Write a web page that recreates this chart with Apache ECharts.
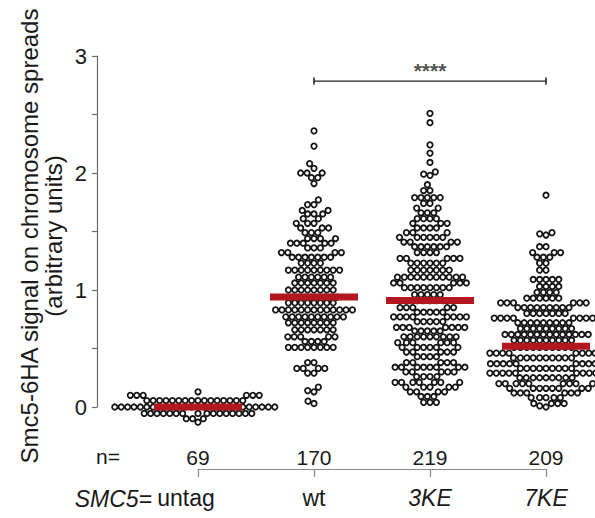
<!DOCTYPE html>
<html>
<head>
<meta charset="utf-8">
<script src="https://cdn.jsdelivr.net/npm/echarts@6/dist/echarts.min.js"></script>
<style>html,body{margin:0;padding:0;background:#fff}#c{width:595px;height:518px}</style>
</head>
<body>
<div id="c"></div>
<script>
// ---------- data ----------
const categories = ['untag', 'wt', '3KE', '7KE'];
const italicCats = ['3KE', '7KE'];
const counts = [69, 170, 219, 209];
const means = [0.00, 0.94, 0.91, 0.52];
const yTicks = [0, 1, 2, 3];
const sigFrom = 1, sigTo = 3, sigY = 2.786, sigLabel = '****';
const nPrefix = 'n=';
const genotypePrefix = 'SMC5=';
const yTitle = 'Smc5-6HA signal on chromosome spreads\n(arbitrary units)';

const untag = [
  0.13,
  0.10,0.10,0.10,0.10,0.10,0.10,
  0.055,0.055,0.055,0.055,0.055,0.055,0.055,0.055,0.055,0.055,0.055,0.055,0.055,0.055,0.055,0.055,
  0,0,0,0,0,0,0,0,0,0,
  0,0,0,0,0,0,0,0,0,0,
  0,0,0,0,0,0,
  -0.055,-0.055,-0.055,-0.055,-0.055,-0.055,-0.055,-0.055,-0.055,-0.055,-0.055,-0.055,-0.055,-0.055,-0.055,-0.055,
  -0.10,-0.10,-0.10,
  -0.13
];

const wt = [
  2.36,2.23,2.08,2.04,2.00,2.00,2.00,1.96,1.96,1.91,
  1.77,1.73,1.73,1.68,1.68,1.65,1.65,1.65,1.61,1.61,
  1.57,1.57,1.57,1.53,1.53,1.53,1.49,1.49,1.49,1.44,
  1.44,1.44,1.44,1.40,1.40,1.40,1.40,1.40,1.36,1.36,
  1.36,1.32,1.32,1.32,1.32,1.28,1.28,1.28,1.28,1.28,
  1.28,1.28,
  1.23,1.23,1.23,1.23,
  1.17,1.17,1.17,1.17,1.17,1.17,1.17,1.17,1.17,
  1.11,1.11,1.11,1.11,1.11,1.11,
  1.06,1.06,1.06,1.06,1.06,1.06,1.06,
  1.00,1.00,1.00,1.00,1.00,1.00,1.00,1.00,
  0.94,0.94,0.94,0.94,0.94,0.94,0.94,0.94,
  0.89,0.89,0.89,0.89,0.89,0.89,0.89,0.89,
  0.83,0.83,0.83,0.83,0.83,0.83,0.83,0.83,0.83,0.83,0.83,0.83,0.83,
  0.77,0.77,0.77,0.77,0.77,0.77,0.77,0.77,0.77,0.77,
  0.72,0.72,0.72,0.72,0.72,0.72,0.72,0.72,
  0.66,0.66,0.66,0.66,0.66,0.66,0.66,
  0.60,0.60,0.60,0.60,0.60,
  0.56,0.56,0.56,0.56,
  0.51,0.51,0.51,0.51,0.51,0.51,0.51,0.51,
  0.38,0.38,
  0.33,0.33,0.33,0.33,
  0.29,0.29,
  0.17,0.14,0.13,0.05,0.03
];

const ke3 = [
  2.51,2.43,2.24,2.17,2.09,2.01,1.99,1.98,1.90,1.85,1.85,
  1.79,1.79,1.79,1.79,1.79,
  1.74,1.74,
  1.70,1.70,
  1.66,1.66,1.66,
  1.61,1.61,1.61,1.61,
  1.57,1.57,1.57,
  1.53,1.53,1.53,1.53,
  1.49,1.49,1.49,
  1.45,1.45,1.45,1.45,1.45,1.45,
  1.41,1.41,1.41,1.41,
  1.37,1.37,1.37,1.37,1.37,1.37,
  1.32,1.32,1.32,1.32,
  1.27,1.27,1.27,1.27,1.27,
  1.23,1.23,1.23,1.23,1.23,1.23,
  1.17,1.17,1.17,1.17,1.17,1.17,1.17,
  1.11,1.11,1.11,1.11,1.11,1.11,1.11,1.11,1.11,1.11,1.11,
  1.06,1.06,1.06,1.06,1.06,
  1.02,1.02,1.02,1.02,1.02,1.02,1.02,1.02,
  0.96,0.96,0.96,0.96,0.96,
  0.91,0.91,0.91,0.91,0.91,0.91,
  0.85,0.85,0.85,0.85,0.85,
  0.81,0.81,0.81,0.81,0.81,
  0.77,0.77,0.77,0.77,0.77,0.77,0.77,0.77,
  0.73,0.73,0.73,0.73,0.73,
  0.68,0.68,0.68,0.68,0.68,0.68,0.68,
  0.65,0.65,0.65,0.65,0.65,
  0.60,0.60,0.60,0.60,0.60,0.60,0.60,0.60,0.60,
  0.55,0.55,0.55,0.55,0.55,0.55,
  0.51,0.51,0.51,0.51,0.51,0.51,
  0.47,0.47,0.47,0.47,0.47,
  0.43,0.43,0.43,0.43,
  0.38,0.38,0.38,0.38,0.38,
  0.34,0.34,0.34,0.34,0.34,0.34,0.34,0.34,
  0.30,0.30,0.30,0.30,0.30,
  0.26,0.26,0.26,0.26,
  0.21,0.21,0.21,0.21,0.21,0.21,0.21,
  0.17,0.17,0.17,0.17,0.17,
  0.13,0.13,0.13,0.13,
  0.09,0.09,0.09,
  0.04,0.04,0.04
];

const ke7 = [
  1.81,1.49,1.48,1.47,
  1.37,1.37,
  1.32,1.32,1.32,
  1.28,1.28,1.28,
  1.23,1.23,
  1.17,1.17,
  1.09,1.09,1.09,1.09,1.09,
  1.03,1.03,1.03,1.03,
  0.98,0.98,0.98,0.98,
  0.93,0.93,0.93,0.93,0.93,0.93,
  0.89,0.89,0.89,0.89,0.89,0.89,
  0.85,0.85,0.85,0.85,0.85,0.85,0.85,0.85,0.85,
  0.80,0.80,0.80,0.80,0.80,0.80,0.80,
  0.76,0.76,0.76,0.76,0.76,0.76,0.76,0.76,
  0.72,0.72,0.72,0.72,0.72,0.72,0.72,0.72,0.72,
  0.67,0.67,0.67,0.67,0.67,0.67,0.67,0.67,0.67,
  0.62,0.62,0.62,0.62,0.62,0.62,0.62,0.62,0.62,0.62,0.62,0.62,0.62,0.62,
  0.57,0.57,0.57,0.57,0.57,0.57,0.57,0.57,0.57,0.57,
  0.51,0.51,0.51,0.51,0.51,0.51,0.51,0.51,0.51,0.51,
  0.46,0.46,0.46,0.46,0.46,0.46,0.46,0.46,0.46,0.46,
  0.42,0.42,0.42,0.42,0.42,0.42,0.42,0.42,0.42,0.42,
  0.37,0.37,0.37,0.37,0.37,0.37,0.37,0.37,0.37,0.37,
  0.33,0.33,0.33,0.33,0.33,0.33,0.33,0.33,0.33,0.33,
  0.29,0.29,0.29,0.29,0.29,0.29,0.29,0.29,0.29,
  0.25,0.25,0.25,0.25,0.25,0.25,0.25,0.25,0.25,
  0.20,0.20,0.20,0.20,0.20,0.20,0.20,0.20,0.20,
  0.16,0.16,0.16,0.16,0.16,0.16,0.16,0.16,
  0.12,0.12,0.12,0.12,0.12,0.12,
  0.08,0.08,0.08,0.08,0.08,
  0.03,0.03,0.03,0.03,
  0.00,0.01
];

const groups = [untag, wt, ke3, ke7];

// ---------- chart ----------
const FONT = '"Liberation Sans", Arial, Helvetica, sans-serif';
const TXT = '#1a1a1a';
const chart = echarts.init(document.getElementById('c'), null, { renderer: 'svg' });

const pointSeries = groups.map((g, i) => ({
  id: 'pts' + i,
  type: 'scatter',
  data: [],
  symbol: 'circle',
  symbolSize: 5.4,
  clip: false,
  silent: true,
  z: 2,
  itemStyle: { color: '#ffffff', borderColor: '#141414', borderWidth: 1.8, opacity: 1 }
}));

const option = {
  animation: false,
  backgroundColor: '#ffffff',
  textStyle: { fontFamily: FONT },
  grid: { left: 198, right: 49, top: 56, bottom: 111, containLabel: false },
  xAxis: [{
    type: 'value', min: 0, max: 3, interval: 1, position: 'bottom', offset: 62,
    axisLine: { show: true, onZero: false, lineStyle: { color: '#8a8a8a', width: 1.2 } },
    axisTick: { show: true, length: 8, lineStyle: { color: '#8a8a8a', width: 1.2 } },
    splitLine: { show: false },
    axisLabel: {
      margin: 17, fontSize: 23, color: TXT, fontFamily: FONT,
      formatter: v => {
        const c = categories[Math.round(v)];
        if (italicCats.includes(c)) return '{i|' + c + '}';
        if (Math.round(v) === 0) return '{u|' + c + '}';
        return c;
      },
      rich: {
        i: { fontStyle: 'italic', fontSize: 23, color: TXT, fontFamily: FONT },
        u: { fontSize: 23, color: TXT, fontFamily: FONT, padding: [0, 24, 0, 0] }
      }
    }
  }, {
    type: 'value', min: 0, max: 3, interval: 1, position: 'bottom', offset: 30,
    axisLine: { show: false, onZero: false }, axisTick: { show: false }, splitLine: { show: false },
    axisLabel: { margin: 10, fontSize: 21, color: TXT, fontFamily: FONT,
      formatter: v => String(counts[Math.round(v)]) }
  }],
  yAxis: {
    type: 'value', min: 0, max: 3, interval: 0.5, offset: 101,
    axisLine: { show: true, onZero: false, lineStyle: { color: '#6a6a6a', width: 1.2 } },
    axisTick: { show: true, length: 5, lineStyle: { color: '#6a6a6a', width: 1.2 } },
    splitLine: { show: false },
    axisLabel: { margin: 10, fontSize: 22, color: TXT, fontFamily: FONT,
      formatter: v => yTicks.includes(v) ? String(v) : '' }
  },
  graphic: [
    { type: 'text', x: 41, y: 236, rotation: Math.PI / 2, silent: true,
      style: { text: yTitle, fontSize: 24, lineHeight: 24, fontFamily: FONT, fill: TXT, align: 'center', verticalAlign: 'middle' } },
    { type: 'text', x: 108, y: 456, silent: true,
      style: { text: nPrefix, fontSize: 21, fontFamily: FONT, fill: TXT, align: 'center', verticalAlign: 'middle' } },
    { type: 'text', x: 152, y: 499, silent: true,
      style: { text: genotypePrefix, fontSize: 23, fontStyle: 'italic', fontFamily: FONT, fill: TXT, align: 'right', verticalAlign: 'middle' } }
  ],
  series: pointSeries.concat([
    {
      id: 'means', type: 'scatter', silent: true, clip: false, z: 5,
      data: means.map((m, i) => [i, m]),
      symbol: 'rect', symbolSize: [88, 7],
      itemStyle: { color: '#b3161e', opacity: 1 }
    },
    {
      id: 'sig', type: 'line', silent: true, clip: false, z: 4,
      data: [[sigFrom, sigY], [sigTo, sigY]],
      symbol: 'rect', symbolSize: [1.6, 7], showSymbol: true,
      lineStyle: { color: '#222', width: 1.3 },
      itemStyle: { color: '#222' }
    },
    {
      id: 'sigLabel', type: 'scatter', silent: true, clip: false, z: 4,
      data: [[(sigFrom + sigTo) / 2, sigY]],
      symbolSize: 0,
      label: { show: true, position: 'top', distance: 0, formatter: sigLabel,
        fontSize: 21, fontWeight: 'bold', color: '#222', fontFamily: FONT }
    }
  ])
};
chart.setOption(option);

// beeswarm layout in pixel space, using the chart's own axes for conversion
function swarm(vals, gi) {
  const D = 6.4;
  const finder = { seriesIndex: 0 };
  const cx = chart.convertToPixel(finder, [gi, 0])[0];
  const pts = vals.map(v => ({ v: v, y: chart.convertToPixel(finder, [gi, v])[1], x: 0 }));
  const order = pts.slice().sort((a, b) => a.v - b.v);
  const placed = [];
  for (const p of order) {
    const cands = [0];
    for (const q of placed) {
      const dy = Math.abs(q.y - p.y);
      if (dy < D) {
        const dx = Math.sqrt(D * D - dy * dy);
        cands.push(q.x + dx, q.x - dx);
      }
    }
    cands.sort((a, b) => (Math.abs(a) - Math.abs(b)) || (a - b));
    let chosen = 0;
    for (const c of cands) {
      let ok = true;
      for (const q of placed) {
        const ddx = q.x - c, ddy = q.y - p.y;
        if (ddx * ddx + ddy * ddy < D * D - 1e-6) { ok = false; break; }
      }
      if (ok) { chosen = c; break; }
    }
    p.x = chosen;
    placed.push(p);
  }
  return pts.map(p => [chart.convertFromPixel(finder, [cx + p.x, p.y])[0], p.v]);
}

chart.setOption({
  series: groups.map((g, i) => ({ id: 'pts' + i, data: swarm(g, i) }))
});
</script>
</body>
</html>
